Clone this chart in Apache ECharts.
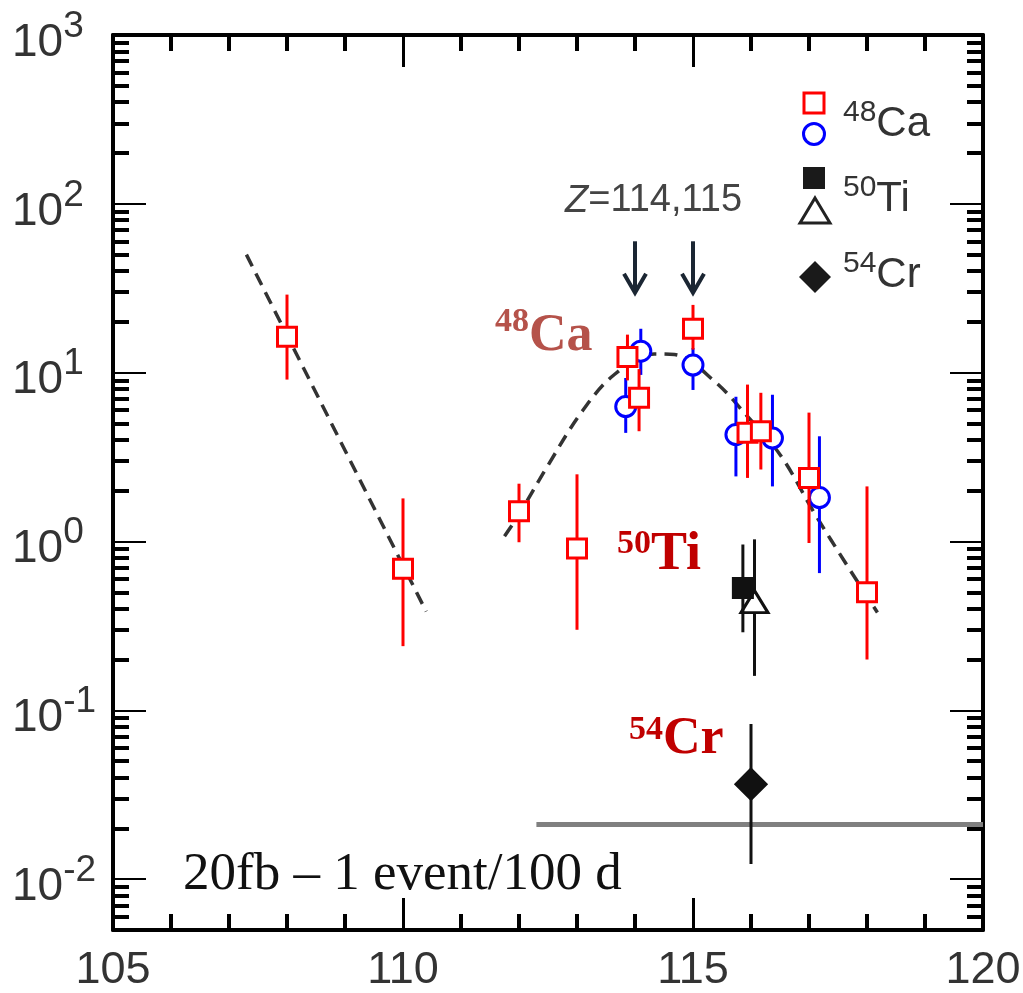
<!DOCTYPE html>
<html lang="en">
<head>
<meta charset="UTF-8">
<title>Cross sections Z=104-118</title>
<script src="https://cdn.jsdelivr.net/npm/echarts@6/dist/echarts.min.js"></script>
<style>
  body, html {width:100%;height:100%;margin:0;background:#fff;}
  #main {width:1023px;height:993px;}
</style>
</head>
<body>
<div id="main"></div>
<script>
// points: [Z, value, lower, upper]
var ca48Squares = [
    [108, 16.3, 9.1, 29],
    [110, 0.69, 0.24, 1.8],
    [112, 1.51, 0.99, 2.2],
    [113, 0.91, 0.30, 2.5],
    [113.87, 12.4, 9.0, 16.8],
    [114.07, 7.1, 4.5, 10.5],
    [115, 18.2, 13.7, 25.2],
    [115.94, 4.4, 2.38, 8.5],
    [116.17, 4.5, 2.67, 7.6],
    [117, 2.38, 0.98, 5.8],
    [118, 0.50, 0.20, 2.12]
];
var ca48Circles = [
    [113.84, 6.3, 4.4, 9.3],
    [114.1, 13.4, 9.7, 18.2],
    [115, 11.1, 7.9, 14],
    [115.74, 4.3, 2.43, 7.2],
    [116.37, 4.1, 2.12, 7.4],
    [117.18, 1.82, 0.65, 4.2]
];
var ti50Squares = [[115.86, 0.53, 0.29, 0.96]];
var ti50Triangles = [[116.06, 0.44, 0.16, 1.03]];
var cr54Diamonds = [[116, 0.0365, 0.0123, 0.083]];

// dashed systematics
var fitLeft = [[107.3, 50], [110.4, 0.385]];
var fitRight = [
    [111.75, 1.075], [111.98, 1.41], [112.49, 2.79], [113.07, 5.78],
    [113.64, 9.72], [114.33, 12.9], [114.68, 12.8], [115.37, 8.9],
    [115.94, 5.5], [116.52, 3.2], [117.09, 1.48], [117.67, 0.71], [118.18, 0.38]
];
// 20 fb limit
var limitLine = [[112.3, 0.0211], [120, 0.0211]];
// arrows Z=114,115: [Z, top, tip]
var zArrows = [[114, 60, 29.7], [115, 60, 29.7]];

var xTicks = [105, 110, 115, 120];
var yDecades = [-2, -1, 0, 1, 2, 3];
var yMin = 0.005, yMax = 1000;

var yLo = Math.log10(yMin);
var yMinor = [];
for (var d = -3; d < 3; d++) {
    for (var k = 2; k <= 9; k++) {
        var t = d + Math.log10(k);
        if (t >= yLo - 1e-9 && t <= 3) yMinor.push(t);
    }
}

var black = '#000';
var sans = '"Liberation Sans", Arial, sans-serif';
var serif = '"Liberation Serif", "Times New Roman", serif';

function errorBars(data, color, z) {
    return {
        type: 'custom',
        data: data,
        z: z,
        encode: {x: 0, y: [2, 3]},
        renderItem: function (params, api) {
            var lo = api.coord([api.value(0), api.value(2)]);
            var hi = api.coord([api.value(0), api.value(3)]);
            return {
                type: 'line',
                shape: {x1: lo[0], y1: lo[1], x2: hi[0], y2: hi[1]},
                style: {stroke: color, lineWidth: 3}
            };
        }
    };
}

function points(data, symbol, size, fill, stroke, z) {
    return {
        type: 'scatter',
        data: data.map(function (p) { return [p[0], p[1]]; }),
        symbol: symbol,
        symbolSize: size,
        z: z,
        itemStyle: {color: fill, borderColor: stroke, borderWidth: 3, opacity: 1}
    };
}

// isotope label with raised mass number
function isoText(x, y, mass, sym, o) {
    return {
        type: 'text', x: x, y: y, z: 10,
        style: {
            text: '{s|' + mass + '}{m|' + sym + '}', verticalAlign: 'middle',
            rich: {
                s: {fontSize: o.s, fontFamily: o.font, fontWeight: o.weight, fill: o.color, lineHeight: o.s, verticalAlign: 'top'},
                m: {fontSize: o.m, fontFamily: o.font, fontWeight: o.weight, fill: o.color, lineHeight: o.lh}
            }
        }
    };
}

function yAxisSet(pos, major) {
    return {
        type: 'value',
        position: pos,
        min: yLo,
        max: 3,
        axisLine: {show: major, onZero: false, lineStyle: {color: black, width: 4}},
        splitLine: {show: false},
        axisTick: {
            inside: true,
            length: major ? 33 : 16,
            customValues: major ? yDecades : yMinor,
            lineStyle: {color: black, width: major ? 2 : 4}
        },
        axisLabel: (pos === 'left' && major) ? {
            customValues: yDecades,
            align: 'left',
            margin: 101,
            padding: [16, 0, 0, 0],
            formatter: function (v) { return '{b|10}{s|' + Math.round(v) + '}'; },
            rich: {
                b: {fontSize: 46, fontFamily: sans, color: '#333', lineHeight: 70},
                s: {fontSize: 37, fontFamily: sans, color: '#333', lineHeight: 37, verticalAlign: 'top'}
            }
        } : {show: false}
    };
}

function xAxisSet(pos) {
    return {
        type: 'value',
        position: pos,
        min: 105,
        max: 120,
        interval: 5,
        axisLine: {onZero: false, lineStyle: {color: black, width: 4}},
        splitLine: {show: false},
        axisTick: {inside: true, length: 32, lineStyle: {color: black, width: 3}},
        minorTick: {show: true, splitNumber: 5, length: 16, lineStyle: {color: black, width: 4}},
        minorSplitLine: {show: false},
        axisLabel: pos === 'bottom' ? {
            customValues: xTicks,
            margin: 18,
            fontSize: 45,
            fontFamily: sans,
            color: '#333'
        } : {show: false}
    };
}

var chart = echarts.init(document.getElementById('main'), null, {renderer: 'canvas'});

var legendFont = {s: 30, m: 42, lh: 52, font: sans, weight: 'normal', color: '#333'};

var option = {
    animation: false,
    backgroundColor: '#fff',
    grid: {left: 113, right: 40, top: 35, bottom: 63, outerBoundsMode: 'none', containLabel: false},
    xAxis: [xAxisSet('bottom'), xAxisSet('top')],
    yAxis: [
        {type: 'log', logBase: 10, min: yMin, max: yMax, show: false, position: 'left'},
        yAxisSet('left', true),
        yAxisSet('left', false),
        yAxisSet('right', true),
        yAxisSet('right', false)
    ],
    series: [
        {
            type: 'line', data: limitLine, showSymbol: false, z: 1,
            lineStyle: {color: '#808080', width: 5}
        },
        {
            type: 'line', data: fitLeft, showSymbol: false, z: 1,
            lineStyle: {color: '#333', width: 3.5, type: [13, 8]}
        },
        {
            type: 'line', data: fitRight, showSymbol: false, smooth: 0.35, z: 1,
            lineStyle: {color: '#333', width: 3.5, type: [13, 8]}
        },
        {
            type: 'custom', data: zArrows, z: 2,
            encode: {x: 0, y: [1, 2]},
            renderItem: function (params, api) {
                var a = api.coord([api.value(0), api.value(1)]);
                var b = api.coord([api.value(0), api.value(2)]);
                var c = '#1b2633';
                return {
                    type: 'group',
                    children: [
                        {type: 'line', shape: {x1: a[0], y1: a[1], x2: b[0], y2: b[1] - 2}, style: {stroke: c, lineWidth: 4}},
                        {type: 'polyline', shape: {points: [[b[0] - 11, b[1] - 19], [b[0], b[1]], [b[0] + 11, b[1] - 19]]},
                            style: {stroke: c, lineWidth: 4, fill: null}}
                    ]
                };
            }
        },
        errorBars(ca48Circles, '#0000ff', 3),
        points(ca48Circles, 'circle', 20, '#fff', '#0000ff', 3),
        errorBars(ca48Squares, '#ff0000', 4),
        points(ca48Squares, 'rect', 19, '#fff', '#ff0000', 4),
        errorBars(ti50Triangles, '#111', 5),
        points(ti50Triangles, 'triangle', [27, 22], '#fff', '#111', 5),
        errorBars(ti50Squares, '#111', 6),
        points(ti50Squares, 'rect', 19, '#111', '#111', 6),
        errorBars(cr54Diamonds, '#111', 6),
        points(cr54Diamonds, 'diamond', [30, 30], '#111', '#111', 6)
    ],
    graphic: [
        // legend
        {type: 'rect', shape: {x: 804, y: 93, width: 20, height: 20}, style: {fill: '#fff', stroke: '#ff0000', lineWidth: 3}},
        {type: 'circle', shape: {cx: 814, cy: 134, r: 10.5}, style: {fill: '#fff', stroke: '#0000ff', lineWidth: 3}},
        {type: 'rect', shape: {x: 803, y: 167, width: 22, height: 22}, style: {fill: '#1a1a1a'}},
        {type: 'polygon', shape: {points: [[815, 198], [830, 223], [800, 223]]}, style: {fill: '#fff', stroke: '#222', lineWidth: 3}},
        {type: 'polygon', shape: {points: [[815, 261], [831, 277], [815, 293], [799, 277]]}, style: {fill: '#1a1a1a'}},
        isoText(843, 124, '48', 'Ca', legendFont),
        isoText(843, 199, '50', 'Ti', legendFont),
        isoText(843, 275, '54', 'Cr', legendFont),
        // Z label
        {type: 'text', x: 565, y: 201, style: {
            text: '{i|Z}{n|=114,115}', verticalAlign: 'middle',
            rich: {i: {fontSize: 38, fontFamily: sans, fontStyle: 'italic', fill: '#444'},
                   n: {fontSize: 38, fontFamily: sans, fill: '#444'}}}},
        // reaction labels
        isoText(495, 337, '48', 'Ca', {s: 34, m: 52, lh: 64, font: serif, weight: 'bold', color: '#b5524a'}),
        isoText(617, 555, '50', 'Ti', {s: 34, m: 54, lh: 56, font: serif, weight: 'bold', color: '#c00000'}),
        isoText(629, 740, '54', 'Cr', {s: 34, m: 52, lh: 54, font: serif, weight: 'bold', color: '#c00000'}),
        {type: 'text', x: 183, y: 875, style: {
            text: '20fb \u2013 1 event/100 d', verticalAlign: 'middle',
            font: '53px ' + serif, fill: '#111'}}
    ]
};

chart.setOption(option);
</script>
</body>
</html>
